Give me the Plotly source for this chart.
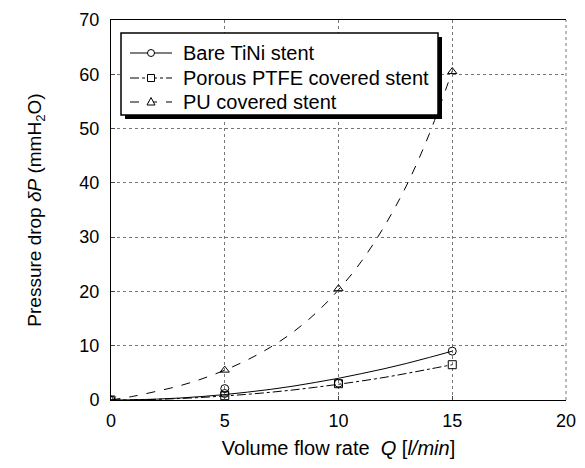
import plotly.graph_objects as go

# measured points
bare_x = [0, 5, 5, 10, 15]
bare_y = [0, 2.1, 1.2, 3.1, 9.0]
ptfe_x = [0, 5, 10, 15]
ptfe_y = [0, 0.8, 3.0, 6.5]
pu_x = [0, 5, 10, 15]
pu_y = [0, 5.5, 20.5, 60.5]

# fitted curves
fit_x = [0, 1, 2, 3, 4, 5, 6, 7, 8, 9, 10, 11, 12, 13, 14, 15]
bare_fit = [0, 0.04, 0.16, 0.36, 0.64, 1.0, 1.45, 1.95, 2.55, 3.25, 4.0, 4.85, 5.75, 6.75, 7.85, 9.0]
ptfe_fit = [0, 0.03, 0.12, 0.27, 0.48, 0.75, 1.05, 1.42, 1.85, 2.35, 2.9, 3.5, 4.15, 4.9, 5.7, 6.5]
pu_fit = [0, 0.7, 1.6, 2.6, 3.9, 5.5, 7.4, 9.7, 12.5, 16.0, 20.3, 25.5, 31.9, 39.6, 49.1, 60.6]

names = ["Bare TiNi stent", "Porous PTFE covered stent", "PU covered stent"]
x_ticks = [0, 5, 10, 15, 20]
y_ticks = [0, 10, 20, 30, 40, 50, 60, 70]

FONT = "Liberation Sans, Arial, sans-serif"
fig = go.Figure()

styles = [
    (bare_x, bare_y, bare_fit, "solid", "circle-open"),
    (ptfe_x, ptfe_y, ptfe_fit, "dashdot", "square-open"),
    (pu_x, pu_y, pu_fit, "dash", "triangle-up-open"),
]
for name, (px, py, fy, dash, sym) in zip(names, styles):
    fig.add_trace(go.Scatter(x=fit_x, y=fy, mode="lines", name=name,
                             line=dict(color="black", width=1, dash=dash, shape="spline"),
                             showlegend=False, hoverinfo="skip"))
    fig.add_trace(go.Scatter(x=px, y=py, mode="markers", name=name,
                             marker=dict(symbol=sym, size=8, color="black", line=dict(width=1, color="black")),
                             showlegend=False))

L, R, T, B = 111, 19, 20, 68
W, H = 585, 468
pw, ph = W - L - R, H - T - B
def px2x(p): return (p - L) / pw
def py2y(p): return (H - B - p) / ph

# ---- hand-drawn legend (box with drop shadow) ----
bx0, by0, bx1, by1 = 121, 33, 438, 115
sh = 4
# shadow strips (right and bottom) drawn as thick lines
fig.add_shape(type="line", xref="paper", yref="paper",
              x0=px2x(bx1 + sh / 2), x1=px2x(bx1 + sh / 2), y0=py2y(by0 + sh), y1=py2y(by1 + sh),
              line=dict(color="black", width=sh), layer="above")
fig.add_shape(type="line", xref="paper", yref="paper",
              x0=px2x(bx0 + sh), x1=px2x(bx1 + sh), y0=py2y(by1 + sh / 2), y1=py2y(by1 + sh / 2),
              line=dict(color="black", width=sh), layer="above")
fig.add_shape(type="rect", xref="paper", yref="paper",
              x0=px2x(bx0), x1=px2x(bx1), y0=py2y(by1), y1=py2y(by0),
              fillcolor="white", line=dict(width=1.5, color="black"), layer="above")
rows = [53, 78, 102]
for name, (px, py, fy, dash, sym), ry in zip(names, styles, rows):
    fig.add_shape(type="line", xref="paper", yref="paper",
                  x0=px2x(130), x1=px2x(172), y0=py2y(ry), y1=py2y(ry),
                  line=dict(color="black", width=1, dash=dash), layer="above")
    mx = 151
    r = 3.5
    if sym.startswith("circle"):
        fig.add_shape(type="circle", xref="paper", yref="paper",
                      x0=px2x(mx - r), x1=px2x(mx + r), y0=py2y(ry + r), y1=py2y(ry - r),
                      fillcolor="white", line=dict(color="black", width=1), layer="above")
    elif sym.startswith("square"):
        fig.add_shape(type="rect", xref="paper", yref="paper",
                      x0=px2x(mx - r), x1=px2x(mx + r), y0=py2y(ry + r), y1=py2y(ry - r),
                      fillcolor="white", line=dict(color="black", width=1), layer="above")
    else:
        path = "M {} {} L {} {} L {} {} Z".format(
            px2x(mx - r - 0.5), py2y(ry + r - 0.5), px2x(mx + r + 0.5), py2y(ry + r - 0.5),
            px2x(mx), py2y(ry - r - 1))
        fig.add_shape(type="path", xref="paper", yref="paper", path=path,
                      fillcolor="white", line=dict(color="black", width=1), layer="above")
    fig.add_annotation(xref="paper", yref="paper", x=px2x(181), y=py2y(ry), text=name,
                       showarrow=False, xanchor="left", yanchor="middle",
                       font=dict(size=20, family=FONT, color="black"))

fig.add_shape(type="line", xref="paper", yref="paper", x0=1, x1=1, y0=0, y1=1,
              line=dict(color="#777", width=1, dash="dot"), layer="below")

fig.update_layout(
    width=W, height=H, margin=dict(l=L, r=R, t=T, b=B, autoexpand=False),
    paper_bgcolor="white", plot_bgcolor="white",
    font=dict(family=FONT, size=18, color="black"),
    showlegend=False,
    xaxis=dict(range=[0, 20], tickvals=x_ticks, ticks="inside", ticklen=4, showline=True, mirror=True,
               linecolor="black", linewidth=1, showgrid=True, gridcolor="#777", griddash="dot", gridwidth=1,
               zeroline=False, tickfont=dict(size=18), ticklabelstandoff=4, automargin=False,
               title=dict(text="Volume flow rate  <i>Q</i> [<i>l/min</i>]", font=dict(size=20), standoff=11)),
    yaxis=dict(range=[0, 70], tickvals=y_ticks, ticks="inside", ticklen=4, showline=True,
               linecolor="black", linewidth=1, showgrid=True, gridcolor="#777", griddash="dot", gridwidth=1,
               zeroline=False, tickfont=dict(size=18), ticklabelstandoff=7, automargin=False,
               title=dict(text="Pressure drop <i>δP</i> (mmH<sub>2</sub>O)", font=dict(size=19), standoff=32)),
)
fig.write_html("out.html")
